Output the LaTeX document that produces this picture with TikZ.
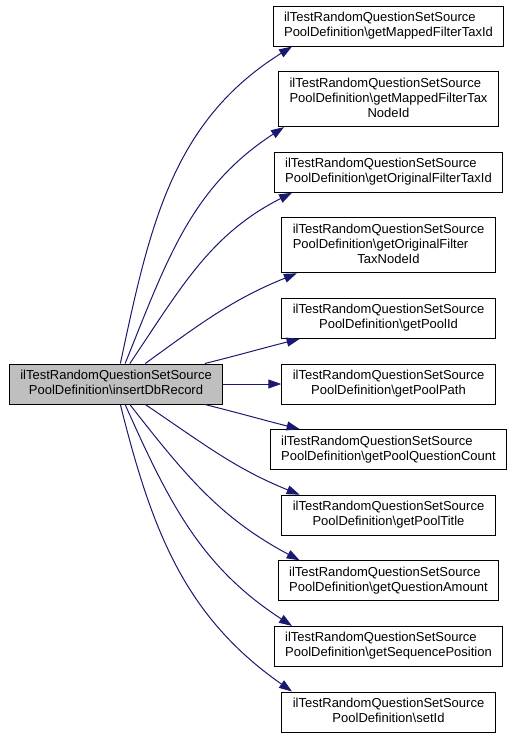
\documentclass[tikz,border=0pt]{standalone}
\usepackage{fontspec}
\setmainfont{Liberation Sans}
\usetikzlibrary{positioning, arrows.meta}
\definecolor{edgeblue}{RGB}{25,25,112}
\definecolor{callergray}{RGB}{191,191,191}
% first line left, last line centered, as in the graph labels
\newcommand{\funclabel}[1]{\begin{tabular}{@{}l@{}}ilTestRandomQuestionSetSource\\\multicolumn{1}{@{}c@{}}{PoolDefinition\textbackslash #1}\end{tabular}}
\newcommand{\funclabellong}[2]{\begin{tabular}{@{}l@{}}ilTestRandomQuestionSetSource\\PoolDefinition\textbackslash #1\\\multicolumn{1}{@{}c@{}}{#2}\end{tabular}}

\begin{document}
\begin{tikzpicture}[
        x=1pt, y=1pt,
        node distance=24.6pt and 58pt,
        every node/.style={font=\fontsize{13}{15}\selectfont},
        func/.style={rectangle, draw=black, line width=1pt, inner xsep=11pt, inner ysep=5pt}, % called functions
        caller/.style={func, fill=callergray},
        call/.style={draw=edgeblue, line width=1pt, -{Triangle[length=13pt, width=9pt, color=edgeblue]}}
    ]
    \useasboundingbox (0,0) rectangle (513,-737);
    % callees, top to bottom
    \node[func] (mappedtax) at (388.5,-26) {\funclabel{getMappedFilterTaxId}};
    \node[func, below=of mappedtax] (mappednode) {\funclabellong{getMappedFilterTax}{NodeId}};
    \node[func, below=of mappednode] (origtax) {\funclabel{getOriginalFilterTaxId}};
    \node[func, below=of origtax] (orignode) {\funclabellong{getOriginalFilter}{TaxNodeId}};
    \node[func, below=of orignode] (poolid) {\funclabel{getPoolId}};
    \node[func, below=of poolid] (poolpath) {\funclabel{getPoolPath}};
    \node[func, below=of poolpath] (poolcount) {\funclabel{getPoolQuestionCount}};
    \node[func, below=of poolcount] (pooltitle) {\funclabel{getPoolTitle}};
    \node[func, below=of pooltitle] (amount) {\funclabel{getQuestionAmount}};
    \node[func, below=of amount] (seqpos) {\funclabel{getSequencePosition}};
    \node[func, below=of seqpos] (setid) {\funclabel{setId}};
    % caller
    \node[caller, left=of poolpath] (insert) {\funclabel{insertDbRecord}};

    \draw[call] (insert.78) to[out=78, in=212] (mappedtax.192);
    \draw[call] (insert.66) to[out=68, in=213] (mappednode.195);
    \draw[call] (insert.56) to[out=56, in=207] (origtax.192);
    \draw[call] (insert.35) to[out=36, in=202] (orignode.197);
    \draw[call] (insert.13.5) to[out=14, in=194] (poolid.193);
    \draw[call] (insert.east) -- (poolpath.west);
    \draw[call] (insert.-13.5) to[out=-14, in=166] (poolcount.167);
    \draw[call] (insert.-35) to[out=-34, in=158] (pooltitle.167);
    \draw[call] (insert.-56) to[out=-52, in=152] (amount.167.5);
    \draw[call] (insert.-66) to[out=-66, in=147] (seqpos.168);
    \draw[call] (insert.-78) to[out=-76, in=145] (setid.168.5);
\end{tikzpicture}
\end{document}
